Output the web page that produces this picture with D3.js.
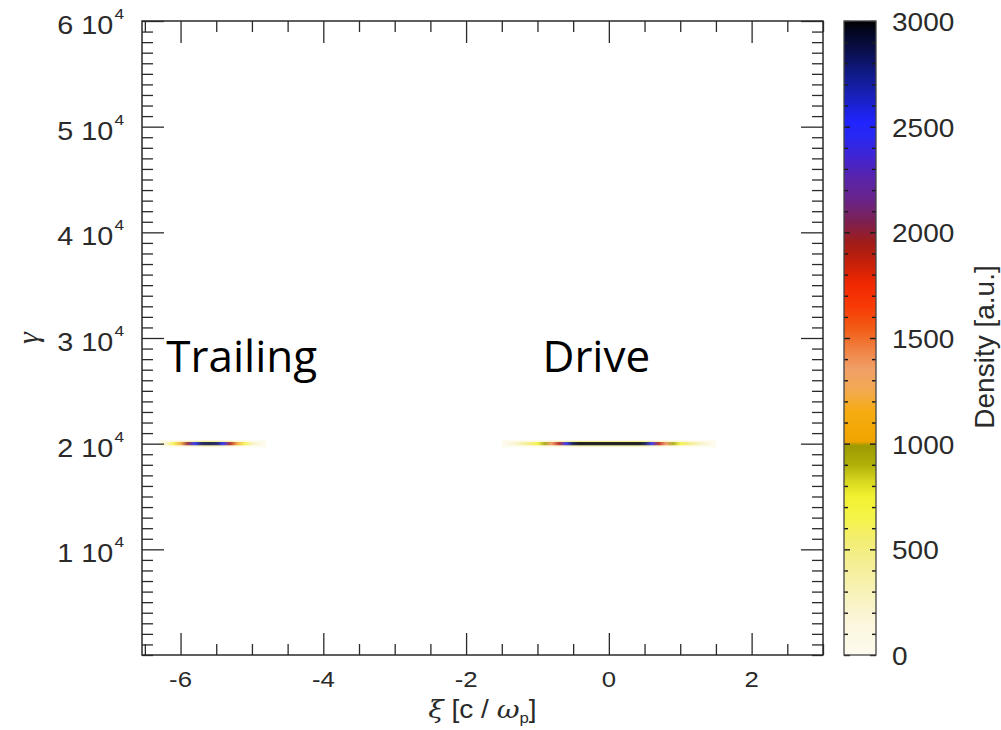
<!DOCTYPE html>
<html>
<head>
<meta charset="utf-8">
<script src="https://cdn.jsdelivr.net/npm/d3@7"></script>
<style>
  body { margin: 0; background: #fff; }
  svg { display: block; }
</style>
</head>
<body>
<svg id="chart" width="1001" height="730"></svg>
<script>
// ---- axis ticks ----
const xiMajorTicks = [-6, -4, -2, 0, 2];
const gammaMajorTicks = [10000, 20000, 30000, 40000, 50000, 60000];
const gammaTickMantissa = ["1", "2", "3", "4", "5", "6"];
const densityTicks = [0, 500, 1000, 1500, 2000, 2500, 3000];

// ---- beam line densities along xi (both beams sit at gamma = 2e4) ----
const driveXi = [-1.5, -1.4, -1.3, -1.2, -1.1, -1.0, -0.9, -0.8, -0.7, -0.6, -0.5, -0.4, -0.3, -0.2, -0.1,
                 0.0, 0.1, 0.2, 0.3, 0.4, 0.5, 0.6, 0.7, 0.8, 0.9, 1.0, 1.1, 1.2, 1.3, 1.4, 1.5];
const driveDensity = [0, 120, 250, 400, 550, 700, 950, 1400, 1900, 2450, 2900, 3000, 3000, 3000, 3000,
                      3000, 3000, 3000, 3000, 3000, 2900, 2450, 1900, 1400, 950, 700, 550, 400, 250, 120, 0];
const trailingXi = [-6.3, -6.2, -6.1, -6.0, -5.9, -5.8, -5.7, -5.6, -5.5, -5.4, -5.3, -5.2, -5.1, -5.0, -4.9, -4.8];
const trailingDensity = [0, 250, 650, 1200, 2000, 2550, 2850, 2900, 2850, 2550, 1900, 1200, 650, 300, 100, 0];
const beamGamma = 20000;
// thin spread in gamma around the beam energy
const gammaRowOffsets = [-300, -200, -100, 0, 100, 200, 300];
const gammaRowWeights = [0.03, 0.15, 1, 1, 1, 0.15, 0.03];

// ---- colour table ----
const cmapValues = [0, 150, 300, 450, 550, 650, 750, 820, 900, 990, 1010, 1150, 1250, 1350, 1450, 1550,
                    1650, 1750, 1850, 1950, 2050, 2150, 2250, 2350, 2450, 2520, 2650, 2750, 2850, 2950, 3000];
const cmapColors = ["#fdfbee", "#fbf6dc", "#f8f2b8", "#f4ee90", "#f3ee70", "#f4f448", "#f2f232", "#d8d820",
                    "#b0b00a", "#9c9a00", "#f0a400", "#f6ac10", "#f2aa50", "#f0a068", "#f08040", "#f25a14",
                    "#f83a06", "#f22800", "#c82008", "#a01c18", "#7c2050", "#6a2488", "#5a24a8", "#4224d0",
                    "#2828f0", "#2024ff", "#1820b8", "#101a88", "#0a1050", "#040620", "#000000"];

const beamLabels = ["Trailing", "Drive"];

// ---- layout ----
const plot = { left: 142, right: 823, top: 21, bottom: 655 };
const bar = { left: 844, right: 876 };
const ink = "#2a2a2a";
const sansFont = "'Liberation Sans', Arial, Helvetica, sans-serif";

const svg = d3.select("#chart");
const defs = svg.append("defs");

const x = d3.scaleLinear().domain([-6.54, 3.0]).range([plot.left, plot.right]);
const y = d3.scaleLinear().domain([0, 60000]).range([plot.bottom, plot.top]);
const color = d3.scaleLinear().domain(cmapValues).range(cmapColors).clamp(true);
const cbY = d3.scaleLinear().domain([0, 3000]).range([plot.bottom, plot.top]);

// horizontally stretched text helper
function label(parent, px, py, str, size, anchor, sx = 1.12, rotate = 0) {
  const t = parent.append("text")
    .attr("transform", `translate(${px},${py}) scale(${sx},1)` + (rotate ? ` rotate(${rotate})` : ""))
    .attr("text-anchor", anchor)
    .attr("font-family", sansFont)
    .attr("font-size", size)
    .attr("fill", ink);
  if (str !== null) t.text(str);
  return t;
}

// ---- beams ----
defs.append("clipPath").attr("id", "plotClip")
  .append("rect").attr("x", plot.left).attr("y", plot.top)
  .attr("width", plot.right - plot.left).attr("height", plot.bottom - plot.top);
defs.append("filter").attr("id", "soft").attr("x", "-5%").attr("y", "-200%").attr("width", "110%").attr("height", "500%")
  .append("feGaussianBlur").attr("stdDeviation", "0.6 0.4");

const beams = [
  { name: "trailing", xi: trailingXi, dens: trailingDensity },
  { name: "drive", xi: driveXi, dens: driveDensity }
];
const beamG = svg.append("g").attr("clip-path", "url(#plotClip)").append("g").attr("filter", "url(#soft)");
beams.forEach(b => {
  const x0 = x(b.xi[0]), x1 = x(b.xi[b.xi.length - 1]);
  gammaRowOffsets.forEach((off, r) => {
    const id = `grad-${b.name}-${r}`;
    const grad = defs.append("linearGradient").attr("id", id)
      .attr("gradientUnits", "userSpaceOnUse")
      .attr("x1", x0).attr("x2", x1).attr("y1", 0).attr("y2", 0);
    b.xi.forEach((v, i) => {
      grad.append("stop")
        .attr("offset", (x(v) - x0) / (x1 - x0))
        .attr("stop-color", color(b.dens[i] * gammaRowWeights[r]));
    });
    const yTop = y(beamGamma + off + 50);
    const yBot = y(beamGamma + off - 50);
    beamG.append("rect")
      .attr("x", x0).attr("width", x1 - x0)
      .attr("y", yTop).attr("height", yBot - yTop)
      .attr("fill", `url(#${id})`);
  });
});

// ---- axes ----
function cleanAxis(g) {
  g.select(".domain").remove();
  g.selectAll(".tick line").attr("stroke", ink).attr("stroke-width", 1.3);
  g.selectAll(".tick text").remove();
}
const xMinor = d3.range(-6.5, 3.01, 0.5).filter(v => !xiMajorTicks.includes(v));
const yMinor = d3.range(0, 60001, 1000).filter(v => !gammaMajorTicks.includes(v));

svg.append("g").attr("transform", `translate(0,${plot.bottom})`)
  .call(d3.axisBottom(x).tickValues(xiMajorTicks).tickSize(-22)).call(cleanAxis);
svg.append("g").attr("transform", `translate(0,${plot.bottom})`)
  .call(d3.axisBottom(x).tickValues(xMinor).tickSize(-11)).call(cleanAxis);
svg.append("g").attr("transform", `translate(0,${plot.top})`)
  .call(d3.axisTop(x).tickValues(xiMajorTicks).tickSize(-22)).call(cleanAxis);
svg.append("g").attr("transform", `translate(0,${plot.top})`)
  .call(d3.axisTop(x).tickValues(xMinor).tickSize(-11)).call(cleanAxis);
svg.append("g").attr("transform", `translate(${plot.left},0)`)
  .call(d3.axisLeft(y).tickValues(gammaMajorTicks).tickSize(-22)).call(cleanAxis);
svg.append("g").attr("transform", `translate(${plot.left},0)`)
  .call(d3.axisLeft(y).tickValues(yMinor).tickSize(-11)).call(cleanAxis);
svg.append("g").attr("transform", `translate(${plot.right},0)`)
  .call(d3.axisRight(y).tickValues(gammaMajorTicks).tickSize(-22)).call(cleanAxis);
svg.append("g").attr("transform", `translate(${plot.right},0)`)
  .call(d3.axisRight(y).tickValues(yMinor).tickSize(-11)).call(cleanAxis);

svg.append("rect")
  .attr("x", plot.left).attr("y", plot.top)
  .attr("width", plot.right - plot.left).attr("height", plot.bottom - plot.top)
  .attr("fill", "none").attr("stroke", ink).attr("stroke-width", 1.5);

// tick labels
const labels = svg.append("g");
xiMajorTicks.forEach(v => label(labels, x(v), 687, String(v), 23, "middle"));
gammaMajorTicks.forEach((v, i) => {
  const t = label(labels, 124, y(v) + 13, null, 25, "end", 1.15);
  t.append("tspan").text(gammaTickMantissa[i] + " 10");
  t.append("tspan").attr("font-size", 15).attr("dx", 1).attr("dy", -15).text("4");
});

// axis titles
const serif = "'DejaVu Serif', 'Liberation Serif', serif";
const xt = label(svg, (plot.left + plot.right) / 2, 718, null, 25, "middle");
xt.append("tspan").attr("font-family", serif).attr("font-style", "italic").text("ξ");
xt.append("tspan").text(" [c / ");
xt.append("tspan").attr("font-family", serif).attr("font-style", "italic").text("ω");
xt.append("tspan").attr("font-size", 15).attr("dy", 5).text("p");
xt.append("tspan").attr("dy", -5).text("]");

label(svg, 38, (plot.top + plot.bottom) / 2, "γ", 30, "middle", 1, -90)
  .attr("font-family", "'Liberation Serif', 'DejaVu Serif', serif").attr("font-style", "italic");

// ---- colour bar ----
const cbGrad = defs.append("linearGradient").attr("id", "cbGrad")
  .attr("x1", 0).attr("x2", 0).attr("y1", 1).attr("y2", 0);
cmapValues.forEach((v, i) => {
  cbGrad.append("stop").attr("offset", v / 3000).attr("stop-color", cmapColors[i]);
});
svg.append("rect")
  .attr("x", bar.left).attr("y", plot.top)
  .attr("width", bar.right - bar.left).attr("height", plot.bottom - plot.top)
  .attr("fill", "url(#cbGrad)");

const cbMinor = d3.range(0, 3001, 100).filter(v => !densityTicks.includes(v));
function cbAxis(g) {
  g.select(".domain").remove();
  g.selectAll(".tick line").attr("stroke", "#1a1a1a").attr("stroke-width", 1.4);
  g.selectAll(".tick text").remove();
}
svg.append("g").attr("transform", `translate(${bar.left},0)`)
  .call(d3.axisLeft(cbY).tickValues(densityTicks).tickSize(-6)).call(cbAxis);
svg.append("g").attr("transform", `translate(${bar.left},0)`)
  .call(d3.axisLeft(cbY).tickValues(cbMinor).tickSize(-4)).call(cbAxis);
svg.append("g").attr("transform", `translate(${bar.right},0)`)
  .call(d3.axisRight(cbY).tickValues(densityTicks).tickSize(-6)).call(cbAxis);
svg.append("g").attr("transform", `translate(${bar.right},0)`)
  .call(d3.axisRight(cbY).tickValues(cbMinor).tickSize(-4)).call(cbAxis);
svg.append("rect")
  .attr("x", bar.left).attr("y", plot.top)
  .attr("width", bar.right - bar.left).attr("height", plot.bottom - plot.top)
  .attr("fill", "none").attr("stroke", "#444").attr("stroke-width", 1.3);

densityTicks.forEach(v => label(labels, 892, cbY(v) + 10, String(v), 25, "start"));
label(svg, 994, 347, "Density [a.u.]", 28, "middle", 1.0, -90);

// ---- beam annotations ----
const annot = svg.append("g")
  .attr("font-family", "'Open Sans', 'Noto Sans', sans-serif")
  .attr("font-size", 44).attr("fill", "#000");
annot.append("text").attr("x", x(-6.2)).attr("y", y(26780)).text(beamLabels[0]);
annot.append("text").attr("x", x(-0.93)).attr("y", y(26780)).text(beamLabels[1]);
</script>
</body>
</html>
